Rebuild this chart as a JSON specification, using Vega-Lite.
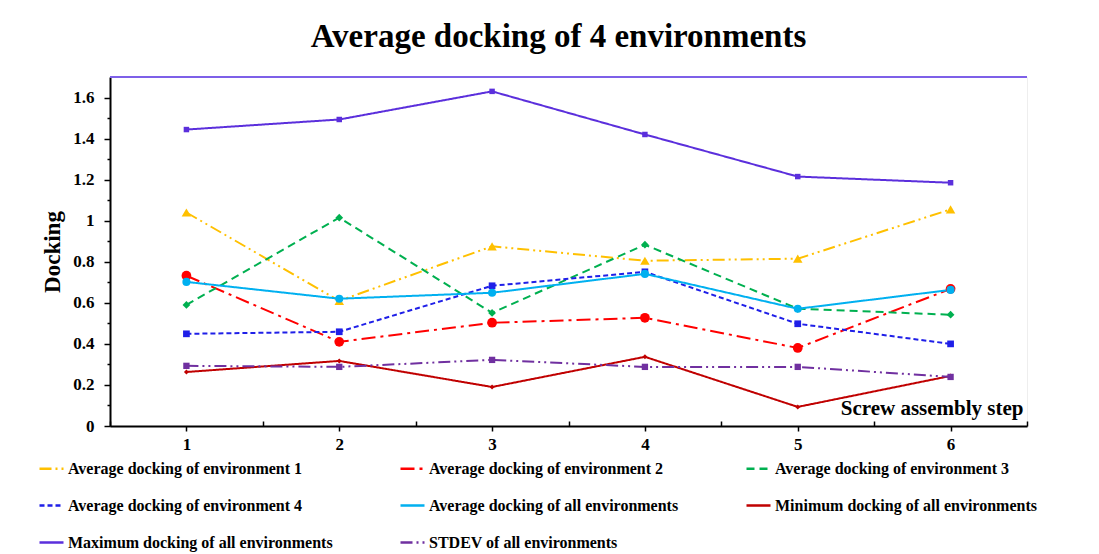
{
  "$schema": "https://vega.github.io/schema/vega-lite/v6.json",
  "autosize": "none",
  "width": 917,
  "height": 349,
  "padding": {"left": 110, "top": 77, "right": 72, "bottom": 128},
  "background": "white",
  "title": {
    "text": "Average docking of 4 environments",
    "font": "Liberation Serif",
    "fontSize": 33,
    "fontWeight": "bold",
    "color": "black",
    "anchor": "middle",
    "baseline": "alphabetic",
    "offset": 27,
    "dx": -10,
    "dy": 31
  },
  "config": {
    "view": {"stroke": "#eeeeee"},
    "axis": {
      "labelFont": "Liberation Serif",
      "labelFontWeight": "bold",
      "labelFontSize": 17,
      "labelColor": "black",
      "titleFont": "Liberation Serif",
      "titleFontWeight": "bold",
      "titleColor": "black",
      "domainColor": "black",
      "domainWidth": 2,
      "tickColor": "black",
      "tickWidth": 1.5,
      "grid": false
    },
    "legend": {
      "labelFont": "Liberation Serif",
      "labelFontWeight": "bold",
      "labelFontSize": 16,
      "labelColor": "black",
      "labelLimit": 0
    }
  },
  "data": {
    "values": [
      {"step": 1, "series": "Average docking of environment 1", "value": 1.04},
      {"step": 2, "series": "Average docking of environment 1", "value": 0.61},
      {"step": 3, "series": "Average docking of environment 1", "value": 0.875},
      {"step": 4, "series": "Average docking of environment 1", "value": 0.805},
      {"step": 5, "series": "Average docking of environment 1", "value": 0.815},
      {"step": 6, "series": "Average docking of environment 1", "value": 1.055},
      {"step": 1, "series": "Average docking of environment 2", "value": 0.732},
      {"step": 2, "series": "Average docking of environment 2", "value": 0.41},
      {"step": 3, "series": "Average docking of environment 2", "value": 0.503},
      {"step": 4, "series": "Average docking of environment 2", "value": 0.527},
      {"step": 5, "series": "Average docking of environment 2", "value": 0.38},
      {"step": 6, "series": "Average docking of environment 2", "value": 0.668},
      {"step": 1, "series": "Average docking of environment 3", "value": 0.59},
      {"step": 2, "series": "Average docking of environment 3", "value": 1.015},
      {"step": 3, "series": "Average docking of environment 3", "value": 0.551},
      {"step": 4, "series": "Average docking of environment 3", "value": 0.883},
      {"step": 5, "series": "Average docking of environment 3", "value": 0.571},
      {"step": 6, "series": "Average docking of environment 3", "value": 0.542},
      {"step": 1, "series": "Average docking of environment 4", "value": 0.449},
      {"step": 2, "series": "Average docking of environment 4", "value": 0.459},
      {"step": 3, "series": "Average docking of environment 4", "value": 0.683},
      {"step": 4, "series": "Average docking of environment 4", "value": 0.751},
      {"step": 5, "series": "Average docking of environment 4", "value": 0.498},
      {"step": 6, "series": "Average docking of environment 4", "value": 0.4},
      {"step": 1, "series": "Average docking of all environments", "value": 0.702},
      {"step": 2, "series": "Average docking of all environments", "value": 0.62},
      {"step": 3, "series": "Average docking of all environments", "value": 0.649},
      {"step": 4, "series": "Average docking of all environments", "value": 0.741},
      {"step": 5, "series": "Average docking of all environments", "value": 0.571},
      {"step": 6, "series": "Average docking of all environments", "value": 0.663},
      {"step": 1, "series": "Minimum docking of all environments", "value": 0.263},
      {"step": 2, "series": "Minimum docking of all environments", "value": 0.317},
      {"step": 3, "series": "Minimum docking of all environments", "value": 0.19},
      {"step": 4, "series": "Minimum docking of all environments", "value": 0.337},
      {"step": 5, "series": "Minimum docking of all environments", "value": 0.093},
      {"step": 6, "series": "Minimum docking of all environments", "value": 0.244},
      {"step": 1, "series": "Maximum docking of all environments", "value": 1.444},
      {"step": 2, "series": "Maximum docking of all environments", "value": 1.493},
      {"step": 3, "series": "Maximum docking of all environments", "value": 1.63},
      {"step": 4, "series": "Maximum docking of all environments", "value": 1.42},
      {"step": 5, "series": "Maximum docking of all environments", "value": 1.215},
      {"step": 6, "series": "Maximum docking of all environments", "value": 1.185},
      {"step": 1, "series": "STDEV of all environments", "value": 0.293},
      {"step": 2, "series": "STDEV of all environments", "value": 0.288},
      {"step": 3, "series": "STDEV of all environments", "value": 0.322},
      {"step": 4, "series": "STDEV of all environments", "value": 0.288},
      {"step": 5, "series": "STDEV of all environments", "value": 0.288},
      {"step": 6, "series": "STDEV of all environments", "value": 0.239}
    ]
  },
  "encoding": {
    "x": {
      "field": "step",
      "type": "quantitative",
      "scale": {"domain": [0.5, 6.5], "nice": false, "zero": false},
      "axis": {
        "values": [0.5, 1, 1.5, 2, 2.5, 3, 3.5, 4, 4.5, 5, 5.5, 6, 6.5],
        "labelExpr": "datum.value % 1 === 0 ? datum.label : ''",
        "format": "~g",
        "labelFont": "Liberation Serif",
        "tickSize": {"condition": {"test": "datum.value % 1 !== 0", "value": -5}, "value": 5},
        "labelPadding": 5,
        "title": "Screw assembly step",
        "titleFontSize": 21,
        "titleX": 913,
        "titleY": -12,
        "titleAlign": "right",
        "titleBaseline": "alphabetic",
        "titleAnchor": null
      }
    },
    "y": {
      "field": "value",
      "type": "quantitative",
      "scale": {"domain": [0, 1.7], "nice": false},
      "axis": {
        "values": [0, 0.1, 0.2, 0.3, 0.4, 0.5, 0.6, 0.7, 0.8, 0.9, 1, 1.1, 1.2, 1.3, 1.4, 1.5, 1.6],
        "format": "~g",
        "labelFont": "Liberation Serif",
        "labelExpr": "round(datum.value * 10) % 2 === 0 ? datum.label : ''",
        "tickSize": {"condition": {"test": "round(datum.value * 10) % 2 === 1", "value": 3}, "value": 6},
        "labelPadding": 10,
        "title": "Docking",
        "titleFontSize": 23,
        "titlePadding": 8
      }
    },
    "color": {
      "field": "series",
      "type": "nominal",
      "scale": {
        "domain": ["Average docking of environment 1", "Average docking of environment 2", "Average docking of environment 3", "Average docking of environment 4", "Average docking of all environments", "Minimum docking of all environments", "Maximum docking of all environments", "STDEV of all environments"],
        "range": ["#FFC000", "#FF0000", "#00B050", "#1F1FE8", "#00B0F0", "#C00000", "#5B2FDC", "#7030A0"]
      },
      "legend": {
        "title": null,
        "orient": "none",
        "direction": "horizontal",
        "legendX": -72,
        "legendY": 378,
        "columns": 3,
        "columnPadding": 62,
        "rowPadding": 15,
        "symbolType": "stroke",
        "symbolSize": 576,
        "symbolStrokeWidth": 2.5,
        "labelOffset": 3
      }
    }
  },
  "layer": [
    {
      "mark": {"type": "rule", "color": "#7E60E8", "strokeWidth": 2},
      "encoding": {"y": {"datum": 1.7}, "x": null, "color": null}
    },
    {
      "mark": {"type": "line", "strokeWidth": 2},
      "encoding": {
        "strokeDash": {
          "field": "series",
          "type": "nominal",
          "scale": {
            "domain": ["Average docking of environment 1", "Average docking of environment 2", "Average docking of environment 3", "Average docking of environment 4", "Average docking of all environments", "Minimum docking of all environments", "Maximum docking of all environments", "STDEV of all environments"],
            "range": [[12, 4, 2, 4, 2, 4], [14, 5, 3, 5], [8, 5], [5, 3], [1, 0], [1, 0], [1, 0], [12, 4, 2, 4, 2, 4]]
          },
          "legend": {
            "title": null,
            "orient": "none",
            "direction": "horizontal",
            "legendX": -72,
            "legendY": 378,
            "columns": 3,
            "columnPadding": 62,
            "rowPadding": 15,
            "symbolType": "stroke",
            "symbolSize": 576,
            "symbolStrokeWidth": 2.5,
            "labelOffset": 3
          }
        }
      }
    },
    {
      "transform": [{"filter": "datum.series === 'Average docking of environment 1'"}],
      "mark": {"type": "point", "filled": true, "opacity": 1, "shape": "triangle-up", "size": 90}
    },
    {
      "transform": [{"filter": "datum.series === 'Average docking of environment 2'"}],
      "mark": {"type": "point", "filled": true, "opacity": 1, "shape": "circle", "size": 95}
    },
    {
      "transform": [{"filter": "datum.series === 'Average docking of environment 3'"}],
      "mark": {"type": "point", "filled": true, "opacity": 1, "shape": "diamond", "size": 60}
    },
    {
      "transform": [{"filter": "datum.series === 'Average docking of environment 4'"}],
      "mark": {"type": "point", "filled": true, "opacity": 1, "shape": "square", "size": 45}
    },
    {
      "transform": [{"filter": "datum.series === 'Average docking of all environments'"}],
      "mark": {"type": "point", "filled": true, "opacity": 1, "shape": "circle", "size": 65}
    },
    {
      "transform": [{"filter": "datum.series === 'Minimum docking of all environments'"}],
      "mark": {"type": "point", "filled": true, "opacity": 1, "shape": "diamond", "size": 25}
    },
    {
      "transform": [{"filter": "datum.series === 'Maximum docking of all environments'"}],
      "mark": {"type": "point", "filled": true, "opacity": 1, "shape": "square", "size": 30}
    },
    {
      "transform": [{"filter": "datum.series === 'STDEV of all environments'"}],
      "mark": {"type": "point", "filled": true, "opacity": 1, "shape": "square", "size": 40}
    }
  ]
}
